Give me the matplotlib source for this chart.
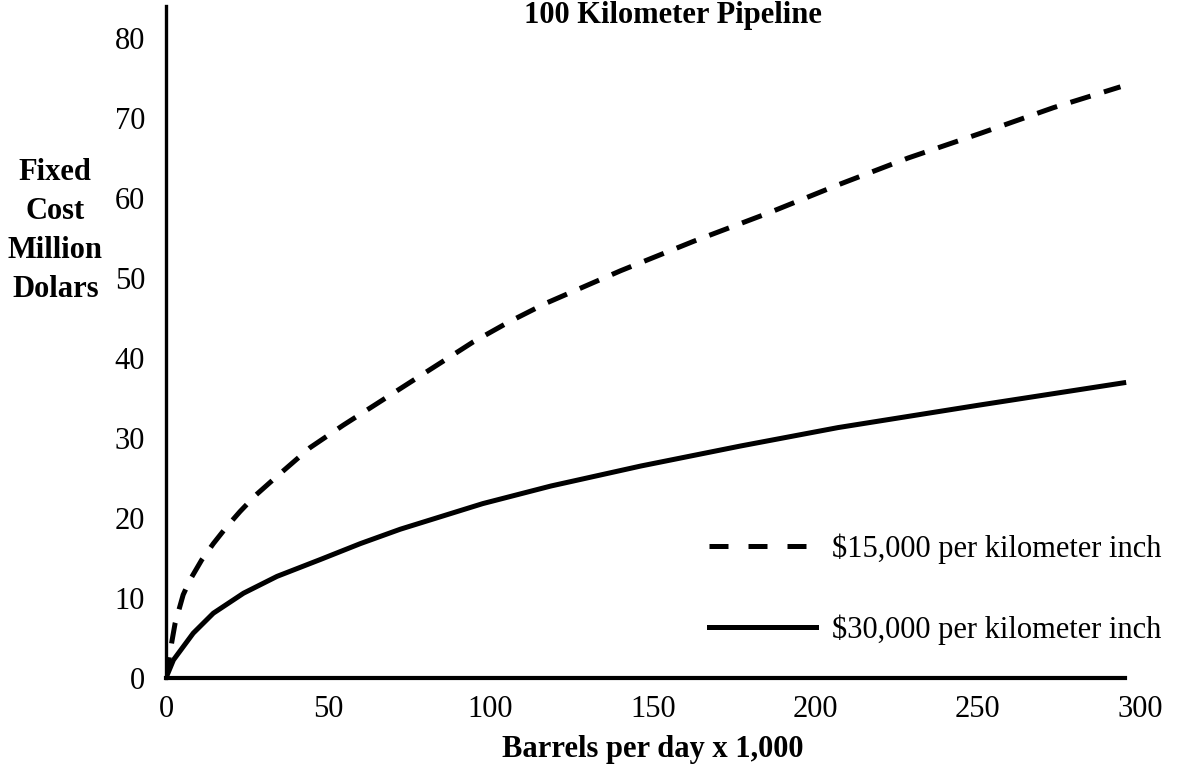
import matplotlib
matplotlib.use('Agg')
import matplotlib.pyplot as plt
from matplotlib.lines import Line2D

# values (x = barrels per day x 1,000, y = million dollars)
x_15k = [0, 1.8, 2.8, 5.3, 7.4, 11, 14.6, 18.7, 22.8, 27.5, 33.6, 44.4, 54.6, 65,
         74.6, 85, 94.6, 105.6, 116.8, 140, 162.6, 185.4, 207.4, 228.6, 251, 273.4, 294]
y_15k = [0, 4.5, 6.8, 10.4, 12.25, 14.75, 16.8, 18.9, 20.8, 22.8, 25.0, 28.8, 31.6, 34.3,
         36.8, 39.5, 42.0, 44.5, 46.8, 50.9, 54.6, 58.1, 61.7, 65, 68.1, 71.3, 73.9]

x_30k = [0, 2.3, 8.4, 14.6, 23.9, 34.2, 47.5, 59.9, 72.2, 97.6, 118.6, 146.3, 177,
         207, 250.3, 295]
y_30k = [0, 2.25, 5.6, 8.1, 10.6, 12.7, 14.8, 16.8, 18.6, 21.8, 24.0, 26.5, 29.0,
         31.3, 34.1, 36.9]

x_ticks = [0, 50, 100, 150, 200, 250, 300]
y_ticks = [0, 10, 20, 30, 40, 50, 60, 70, 80]

label_15k = '$15,000 per kilometer inch'
label_30k = '$30,000 per kilometer inch'

plt.rcParams['font.family'] = ['Liberation Serif', 'DejaVu Serif']

fig = plt.figure(figsize=(11.77, 7.70), dpi=100)
ax = fig.add_axes([0.141, 0.1195, 0.8275, 0.8727])

ax.plot(x_15k, y_15k, color='black', lw=3.6, linestyle=(0, (4.2, 2.8)),
        dash_capstyle='butt', solid_joinstyle='round')
ax.plot(x_30k, y_30k, color='black', lw=3.6, solid_joinstyle='round')

ax.set_xlim(0, 300)
ax.set_ylim(0, 84)
ax.set_xticks(x_ticks)
ax.set_yticks(y_ticks)
ax.tick_params(length=0, labelsize=22)
ax.tick_params(axis='x', pad=12)
ax.tick_params(axis='y', pad=15)

for side in ['top', 'right']:
    ax.spines[side].set_visible(False)
ax.spines['left'].set_linewidth(2.4)
ax.spines['bottom'].set_linewidth(3.0)
ax.spines['bottom'].set_bounds(0, 295.5)

ax.set_xlabel('Barrels per day x 1,000', fontsize=22, fontweight='bold', labelpad=8)
fig.text(0.047, 0.70, 'Fixed\nCost\nMillion\nDolars', fontsize=22, fontweight='bold',
         ha='center', va='center', linespacing=1.45)
fig.text(0.572, 0.98, '100 Kilometer Pipeline', fontsize=22, fontweight='bold',
         ha='center', va='center')

handles = [Line2D([], [], color='black', lw=3.6, linestyle=(0, (3.8, 4.0)),
                  dash_capstyle='butt'),
           Line2D([], [], color='black', lw=3.6)]
ax.legend(handles, [label_15k, label_30k], loc='upper left',
          bbox_to_anchor=(0.558, 0.215), frameon=False,
          fontsize=22, borderpad=0, borderaxespad=0, handlelength=3.5,
          handletextpad=0.5, labelspacing=1.65)

fig.savefig('out.png', dpi=100)
